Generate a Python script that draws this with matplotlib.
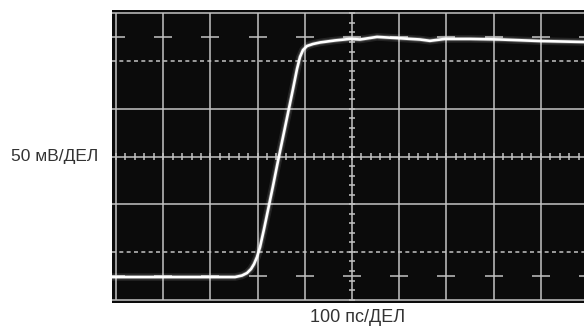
import numpy as np
import matplotlib
matplotlib.use("Agg")
import matplotlib.pyplot as plt

# Trace data: time (ps, 100 ps/div) and voltage (mV, 50 mV/div, 0 = screen centre)
time_ps = [-8.5, 178, 252.1, 266.9, 277.5, 286.0, 292.4, 298.7, 305.1, 313.6,
           322.0, 332.6, 343.2, 353.8, 364.4, 375.0, 383.5, 389.8, 396.2,
           404.7, 417.4, 432.2, 464, 496, 517, 553, 591, 644, 665, 697, 750,
           814, 898, 992]
volt_mv = [-126.3, -126.3, -126.3, -124.7, -122.1, -117.9, -112.7, -105.3,
           -94.9, -76.0, -56.1, -30.9, -4.7, 20.4, 45.6, 70.8, 91.7, 104.3,
           111.6, 115.8, 117.9, 119.5, 121.6, 123.2, 122.6, 125.3, 124.2,
           122.6, 121.2, 123.2, 123.2, 122.6, 121, 120]

x_label = "100 пс/ДЕЛ"
y_label = "50 мВ/ДЕЛ"

x_divs = np.arange(0, 1001, 100)
y_divs = np.arange(-150, 151, 50)

fig = plt.figure(figsize=(5.84, 3.29), dpi=100)
ax = fig.add_axes([112 / 584, 26 / 329, 472 / 584, 293 / 329])
ax.set_facecolor("#0b0b0b")
ax.set_xlim(-8.5, 991.5)
ax.set_ylim(-153.5, 153.5)
for s in ax.spines.values():
    s.set_visible(False)
ax.set_xticks([])
ax.set_yticks([])

gc = "#c4c4c4"
glw = 1.1
# vertical grid lines
ax.vlines(x_divs, -150, 150, color=gc, lw=glw, zorder=1)
# horizontal grid lines (solid / dashed)
for v in y_divs:
    if abs(v) == 100:
        ax.axhline(v, color=gc, lw=glw, ls=(0, (2.6, 2.2)), zorder=1)
    else:
        ax.axhline(v, color=gc, lw=glw, zorder=1)

# minor ticks on centre lines
mt = np.arange(0, 1001, 20)
ax.vlines(mt, -3.2, 3.2, color=gc, lw=glw, zorder=1)
mv = np.arange(-150, 151, 10)
ax.hlines(mv, 500 - 6.5, 500 + 6.5, color=gc, lw=glw, zorder=1)
# 10% / 90% short markers
for v in (-125, 125):
    ax.hlines(np.full(len(x_divs), v), x_divs - 19, x_divs + 19,
              color=gc, lw=glw, zorder=1)

# trace with glow
ax.plot(time_ps, volt_mv, color="white", lw=5.5, alpha=0.10, zorder=3,
        solid_joinstyle="round", solid_capstyle="round")
ax.plot(time_ps, volt_mv, color="white", lw=3.2, alpha=0.22, zorder=3,
        solid_joinstyle="round", solid_capstyle="round")
ax.plot(time_ps, volt_mv, color="white", lw=1.9, zorder=4,
        solid_joinstyle="round", solid_capstyle="round")

fig.text(55 / 584, 1 - 157 / 329, y_label, ha="center", va="center",
         fontsize=12.5, family="Liberation Sans", color="#333333")
fig.text(358 / 584, 1 - 318 / 329, x_label, ha="center", va="center",
         fontsize=13, family="Liberation Sans", color="#333333")

fig.savefig("out.png", dpi=100)
